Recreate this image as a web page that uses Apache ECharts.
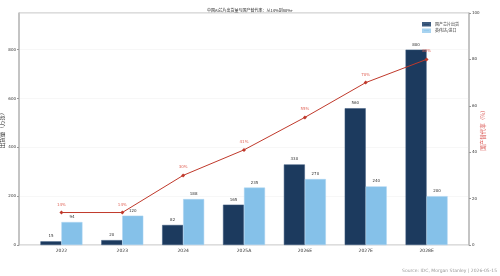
<!DOCTYPE html>
<html>
<head>
<meta charset="utf-8">
<script src="https://cdn.jsdelivr.net/npm/echarts@6/dist/echarts.min.js"></script>
<style>
  html, body { margin: 0; padding: 0; background: #fff; }
  #chart { width: 500px; height: 276px; }
</style>
</head>
<body>
<div id="chart"></div>
<script>
// 数据
const years = ['2022', '2023', '2024', '2025A', '2026E', '2027E', '2028E'];
const domestic = [15, 20, 82, 165, 330, 560, 800];
const imported = [94, 120, 188, 235, 270, 240, 200];
const rate = [14, 14, 30, 41, 55, 70, 80];

const FONT = '"DejaVu Sans", "Noto Sans CJK SC", sans-serif';
const CJK = '"Noto Sans CJK SC", "DejaVu Sans", sans-serif';

const chart = echarts.init(document.getElementById('chart'), null, { renderer: 'canvas' });

const option = {
    backgroundColor: '#fff',
    animation: false,
    textStyle: { fontFamily: FONT },
    title: {
        text: '中国AI芯片出货量与国产替代率：从14%到80%+',
        left: 202,
        top: 3,
        textStyle: { fontSize: 4, fontWeight: 'normal', color: '#222', fontFamily: CJK }
    },
    legend: {
        right: 36,
        top: 17,
        orient: 'vertical',
        itemWidth: 7,
        itemHeight: 2.5,
        itemGap: 2,
        icon: 'rect',
        textStyle: { fontSize: 4, color: '#333', fontFamily: CJK },
        data: ['国产芯片出货', '英伟达/进口']
    },
    graphic: [{
        type: 'text',
        right: 3,
        bottom: 3,
        style: { text: 'Source: IDC, Morgan Stanley | 2026-05-15', fontSize: 4.5, fill: '#999', fontFamily: FONT }
    }],
    grid: [
        // 外框
        { left: 19, right: 31, top: 13, bottom: 31, show: true, borderColor: '#bbb', borderWidth: 1, z: 0, outerBoundsMode: 'none' },
        // 数据区
        { left: 31, right: 43, top: 13, bottom: 31, outerBoundsMode: 'none' }
    ],
    xAxis: [
        { gridIndex: 0, type: 'value', min: 0, max: 1, show: false },
        {
            gridIndex: 1,
            type: 'category',
            data: years,
            boundaryGap: true,
            axisLine: { show: false },
            axisTick: { show: false },
            axisLabel: { fontSize: 4.5, color: '#333', margin: 4 }
        }
    ],
    yAxis: [
        {
            gridIndex: 0, type: 'value', min: 0, max: 950, interval: 200,
            axisLine: { show: false }, axisTick: { show: false }, axisLabel: { show: false },
            splitLine: { lineStyle: { color: '#f2f2f2', width: 0.6 } }
        },
        {
            gridIndex: 1, type: 'value', min: 0, max: 950, interval: 200,
            offset: 12,
            name: '出货量（万张）',
            nameLocation: 'middle',
            nameRotate: 90,
            nameGap: 14,
            nameMoveOverlap: false,
            nameTextStyle: { fontSize: 5.5, color: '#333', fontFamily: CJK },
            axisLine: { show: true, lineStyle: { color: '#bbb', width: 1.5 } },
            axisTick: { show: true, length: 2, lineStyle: { color: '#999' } },
            axisLabel: { fontSize: 4, color: '#333', margin: 3, showMaxLabel: false },
            splitLine: { show: false }
        },
        {
            gridIndex: 1, type: 'value', min: 0, max: 100, interval: 20,
            position: 'right',
            offset: 12,
            name: '国产替代率（%）',
            nameLocation: 'middle',
            nameRotate: 90,
            nameGap: 11,
            nameMoveOverlap: false,
            nameTextStyle: { fontSize: 5.5, color: '#d9534f', fontFamily: CJK },
            axisLine: { show: true, lineStyle: { color: '#bbb', width: 1.5 } },
            axisTick: { show: true, length: 2, lineStyle: { color: '#999' } },
            axisLabel: { fontSize: 4, color: '#333', margin: 3 },
            splitLine: { show: false }
        }
    ],
    series: [
        {
            name: '国产芯片出货',
            type: 'bar',
            xAxisIndex: 1,
            yAxisIndex: 1,
            data: domestic,
            barWidth: 21,
            barGap: '0%',
            itemStyle: { color: '#1c3a5e', borderColor: '#3d5a7e', borderWidth: 0.5 },
            label: { show: true, position: 'top', distance: 3, fontSize: 4, color: '#333' }
        },
        {
            name: '英伟达/进口',
            type: 'bar',
            xAxisIndex: 1,
            yAxisIndex: 1,
            data: imported,
            barWidth: 21,
            itemStyle: { color: '#85c1e9', borderColor: '#a8d3f0', borderWidth: 0.5 },
            label: { show: true, position: 'top', distance: 3, fontSize: 4, color: '#333' }
        },
        {
            name: '国产替代率',
            type: 'line',
            xAxisIndex: 1,
            yAxisIndex: 2,
            data: rate,
            symbol: 'diamond',
            symbolSize: 4,
            itemStyle: { color: '#c0392b' },
            lineStyle: { color: '#c0392b', width: 1 },
            label: {
                show: true, position: 'top', distance: 4, fontSize: 4, color: '#e06458',
                formatter: p => p.value + '%'
            },
            z: 5
        }
    ]
};

chart.setOption(option);
</script>
</body>
</html>
